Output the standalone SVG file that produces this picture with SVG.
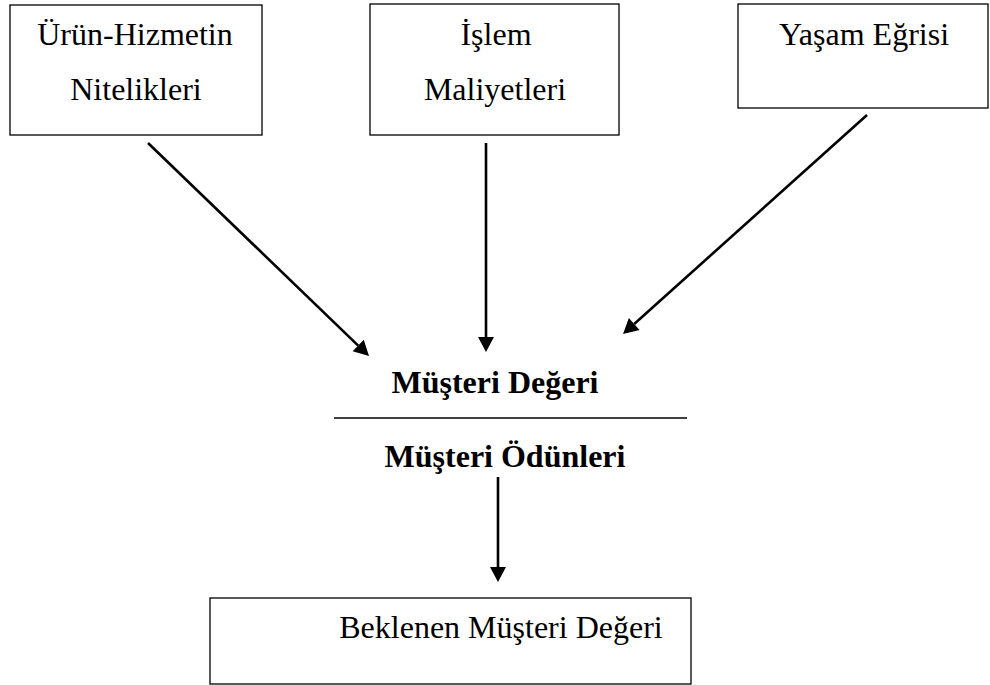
<svg xmlns="http://www.w3.org/2000/svg" width="990" height="685" viewBox="0 0 990 685">
  <style>
    .box { fill: #ffffff; stroke: #000000; stroke-width: 1.3; }
    .lbl { font-family: "Liberation Serif", "Times New Roman", serif; font-size: 32px; fill: #000000; text-anchor: middle; }
    .bold { font-weight: bold; }
    .conn { stroke: #000000; stroke-width: 2.6; fill: none; marker-end: url(#head); }
    .rule { stroke: #000000; stroke-width: 1.5; }
  </style>
  <defs>
    <marker id="head" markerUnits="userSpaceOnUse" markerWidth="16" markerHeight="16" refX="0" refY="8" orient="auto" overflow="visible">
      <path d="M0,0 L15,8 L0,16 Z" fill="#000000"/>
    </marker>
  </defs>
  <rect width="990" height="685" fill="#ffffff"/>

  <g id="urun-hizmet">
    <rect class="box" x="10" y="5" width="252" height="130"/>
    <text class="lbl" x="135" y="45">Ürün-Hizmetin</text>
    <text class="lbl" x="136" y="100">Nitelikleri</text>
  </g>

  <g id="islem-maliyet">
    <rect class="box" x="370" y="4" width="249" height="131"/>
    <text class="lbl" x="496" y="45">İşlem</text>
    <text class="lbl" x="495" y="100">Maliyetleri</text>
  </g>

  <g id="yasam-egrisi">
    <rect class="box" x="738" y="4" width="250" height="104"/>
    <text class="lbl" x="864" y="45">Yaşam Eğrisi</text>
  </g>

  <g id="musteri-degeri">
    <text class="lbl bold" x="495" y="393">Müşteri Değeri</text>
    <line class="rule" x1="334" y1="418" x2="687" y2="418"/>
    <text class="lbl bold" x="505" y="467">Müşteri Ödünleri</text>
  </g>

  <g id="beklenen-deger">
    <rect class="box" x="210" y="598" width="481" height="86"/>
    <text class="lbl" x="501" y="638">Beklenen Müşteri Değeri</text>
  </g>

  <g id="connectors">
    <line class="conn" x1="148" y1="143" x2="358.2" y2="345.6"/>
    <line class="conn" x1="486" y1="143" x2="486" y2="337"/>
    <line class="conn" x1="867" y1="115" x2="634.2" y2="324"/>
    <line class="conn" x1="498" y1="477" x2="498" y2="567"/>
  </g>
</svg>
